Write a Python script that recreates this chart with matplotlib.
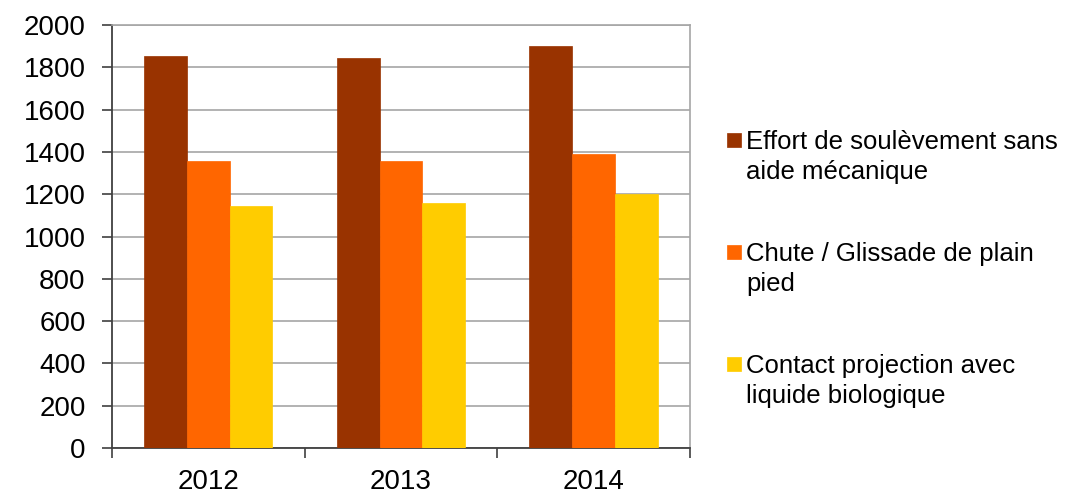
import numpy as np
import matplotlib
matplotlib.use("Agg")
import matplotlib.pyplot as plt
from matplotlib.patches import Rectangle
from matplotlib.legend_handler import HandlerPatch

plt.rcParams['font.family'] = ['Liberation Sans', 'DejaVu Sans']

years = ['2012', '2013', '2014']
series = ['Effort de soulèvement sans\naide mécanique',
          'Chute / Glissade de plain\npied',
          'Contact projection avec\nliquide biologique']
effort = [1852, 1845, 1903]
chute = [1358, 1358, 1392]
contact = [1143, 1157, 1200]
colors = ['#993300', '#FF6600', '#FFCC00']


def top_square(legend, orig_handle, xdescent, ydescent, width, height, fontsize):
    # put the square next to the first line of the label
    s = 0.55 * fontsize
    return Rectangle((-xdescent, -ydescent + 0.76 * fontsize), s, s)


fig = plt.figure(figsize=(10.7, 4.94), dpi=100)
ax = fig.add_axes([0.1047, 0.093, 0.5400, 0.856])

x = np.arange(len(years))
w = 0.222
handles = []
for i, (vals, c, lab) in enumerate(zip([effort, chute, contact], colors, series)):
    b = ax.bar(x + (i - 1) * w, vals, width=w, color=c, label=lab,
               edgecolor=c, linewidth=0.5, zorder=3)
    handles.append(b.patches[0])

ax.set_xlim(-0.5, 2.5)
ax.set_ylim(0, 2000)
ax.set_yticks(np.arange(0, 2001, 200))
ax.yaxis.grid(True, color='#a6a6a6', linewidth=1.2, zorder=0)
ax.set_xticks(x)
ax.set_xticklabels(years)
ax.set_xticks([-0.5, 0.5, 1.5, 2.5], minor=True)
ax.tick_params(axis='x', which='major', length=0, labelsize=20, pad=15)
ax.tick_params(axis='x', which='minor', length=7, width=1.2, color='#404040')
ax.tick_params(axis='y', length=7, width=1.2, color='#404040', labelsize=20, pad=12)

for side in ['left', 'bottom']:
    ax.spines[side].set_color('#404040')
    ax.spines[side].set_linewidth(1.3)
for side in ['top', 'right']:
    ax.spines[side].set_color('#a6a6a6')
    ax.spines[side].set_linewidth(1.2)

leg = fig.legend(handles=handles, labels=series, loc='upper left',
                 bbox_to_anchor=(0.658, 0.783), frameon=False, fontsize=18.5,
                 labelspacing=2.25, handlelength=0.55, handletextpad=0.2,
                 handler_map={h: HandlerPatch(patch_func=top_square) for h in handles})
for t in leg.get_texts():
    t.set_linespacing(1.32)

fig.savefig('out.png', dpi=100)
